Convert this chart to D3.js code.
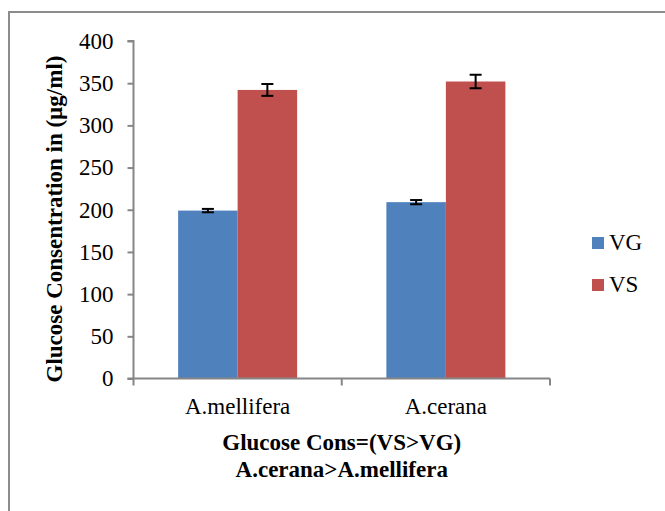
<!DOCTYPE html>
<html><head><meta charset="utf-8">
<script src="https://cdn.jsdelivr.net/npm/d3@7"></script>
<style>
html,body{margin:0;padding:0;background:#fff;}
text{font-family:"Liberation Serif","Times New Roman",serif;fill:#000;}
</style></head>
<body>
<svg id="chart" width="665" height="511"></svg>
<script>
const categories = ["A.mellifera", "A.cerana"];
const seriesNames = ["VG", "VS"];
const vgValues = [199, 209];
const vsValues = [342, 352];
const vgErrors = [2, 2.5];
const vsErrors = [7, 8];
const yTicks = [0, 50, 100, 150, 200, 250, 300, 350, 400];
const colors = ["#4F81BD", "#C0504D"];
const titleLines = ["Glucose Cons=(VS>VG)", "A.cerana>A.mellifera"];
const yTitle = "Glucose Consentration in (\u00b5g/ml)";

const svg = d3.select("#chart");
// outer frame
svg.append("rect").attr("x", 9).attr("y", 12).attr("width", 700).attr("height", 600)
  .attr("fill", "none").attr("stroke", "#8c8c8c").attr("stroke-width", 2);

const plotLeft = 133.5, plotRight = 550, plotTop = 41, plotBottom = 378.5;
const x0 = d3.scaleBand().domain(categories).range([plotLeft, plotRight]).paddingInner(0).paddingOuter(0);
const x1 = d3.scaleBand().domain(seriesNames).range([0, x0.bandwidth()]).paddingInner(0).paddingOuter(0.75);
const y = d3.scaleLinear().domain([0, 400]).range([plotBottom, plotTop]);

const data = categories.map((c, i) => ({
  cat: c,
  vals: [
    {s: "VG", v: vgValues[i], e: vgErrors[i], col: colors[0]},
    {s: "VS", v: vsValues[i], e: vsErrors[i], col: colors[1]}
  ]
}));

const g = svg.selectAll("g.grp").data(data).enter().append("g")
  .attr("transform", d => `translate(${x0(d.cat)},0)`);
g.selectAll("rect").data(d => d.vals).enter().append("rect")
  .attr("x", d => x1(d.s)).attr("width", x1.bandwidth())
  .attr("y", d => y(d.v)).attr("height", d => y(0) - y(d.v))
  .attr("fill", d => d.col);

// error bars
const eb = g.selectAll("g.err").data(d => d.vals).enter().append("g")
  .attr("stroke", "#000").attr("stroke-width", 2);
eb.append("line").attr("x1", d => x1(d.s) + x1.bandwidth()/2).attr("x2", d => x1(d.s) + x1.bandwidth()/2)
  .attr("y1", d => y(d.v + d.e)).attr("y2", d => y(d.v - d.e));
eb.append("line").attr("x1", d => x1(d.s) + x1.bandwidth()/2 - 6).attr("x2", d => x1(d.s) + x1.bandwidth()/2 + 6)
  .attr("y1", d => y(d.v + d.e)).attr("y2", d => y(d.v + d.e));
eb.append("line").attr("x1", d => x1(d.s) + x1.bandwidth()/2 - 6).attr("x2", d => x1(d.s) + x1.bandwidth()/2 + 6)
  .attr("y1", d => y(d.v - d.e)).attr("y2", d => y(d.v - d.e));

// y axis
const yAxis = d3.axisLeft(y).tickValues(yTicks).tickSize(6).tickPadding(14).tickFormat(d3.format("d"));
const ya = svg.append("g").attr("transform", `translate(${plotLeft},0)`).call(yAxis);
ya.select(".domain").attr("stroke", "#868686").attr("stroke-width", 2).attr("d", `M-6,${plotTop}H0V${plotBottom}`);
ya.selectAll(".tick line").attr("stroke", "#868686").attr("stroke-width", 2);
ya.selectAll(".tick text").attr("font-size", "23px").attr("font-family", "Liberation Serif, Times New Roman, serif").attr("fill", "#000");

// x axis
const xEdges = d3.scaleLinear().domain([0, categories.length]).range([plotLeft, plotRight]);
const xa = svg.append("g");
xa.append("line").attr("x1", plotLeft - 6).attr("x2", plotRight).attr("y1", plotBottom).attr("y2", plotBottom)
  .attr("stroke", "#868686").attr("stroke-width", 2);
xa.selectAll("line.xt").data(d3.range(categories.length + 1)).enter().append("line")
  .attr("x1", d => xEdges(d)).attr("x2", d => xEdges(d)).attr("y1", plotBottom).attr("y2", plotBottom + 7)
  .attr("stroke", "#868686").attr("stroke-width", 2);
xa.selectAll("text").data(categories).enter().append("text")
  .attr("x", d => x0(d) + x0.bandwidth()/2).attr("y", 414)
  .attr("text-anchor", "middle").attr("font-size", "23px").text(d => d);

// y title
svg.append("text").attr("transform", "translate(62,219) rotate(-90)")
  .attr("text-anchor", "middle").attr("font-size", "23px").attr("font-weight", "bold").text(yTitle);

// bottom title
svg.selectAll("text.btitle").data(titleLines).enter().append("text")
  .attr("x", (plotLeft + plotRight)/2).attr("y", (d, i) => 450 + i * 27)
  .attr("text-anchor", "middle").attr("font-size", "23px").attr("font-weight", "bold").text(d => d);

// legend
const leg = svg.selectAll("g.leg").data(seriesNames).enter().append("g")
  .attr("transform", (d, i) => `translate(592,${237 + i * 42})`);
leg.append("rect").attr("width", 12).attr("height", 12).attr("fill", (d, i) => colors[i]);
leg.append("text").attr("x", 17).attr("y", 13).attr("font-size", "23px").text(d => d);
</script>
</body></html>
